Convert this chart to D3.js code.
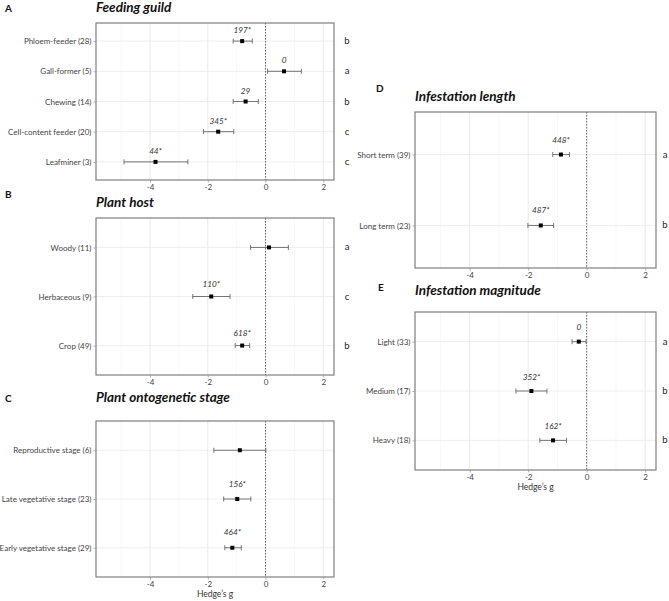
<!DOCTYPE html>
<html>
<head>
<meta charset="utf-8">
<script src="https://cdn.jsdelivr.net/npm/d3@7"></script>
<style>
  body { margin: 0; background: #fff; }
  text { font-family: Lato, "Open Sans", sans-serif; }
</style>
</head>
<body>
<script>
const width = 669;
const height = 601;
const xDomain = [-5.87, 2.37];
const xTicks = [-4, -2, 0, 2];
const xMinor = [-5, -3, -1, 1];

// Feeding guild
const guildCats = ["Phloem-feeder (28)", "Gall-former (5)", "Chewing (14)", "Cell-content feeder (20)", "Leafminer (3)"];
const guildMean = [-0.81, 0.64, -0.69, -1.64, -3.81];
const guildLow = [-1.12, 0.07, -1.12, -2.15, -4.90];
const guildHigh = [-0.46, 1.24, -0.25, -1.10, -2.69];
const guildNote = ["197*", "0", "29", "345*", "44*"];
const guildLetter = ["b", "a", "b", "c", "c"];

// Plant host
const hostCats = ["Woody (11)", "Herbaceous (9)", "Crop (49)"];
const hostMean = [0.12, -1.88, -0.81];
const hostLow = [-0.52, -2.52, -1.05];
const hostHigh = [0.79, -1.23, -0.55];
const hostNote = ["", "110*", "618*"];
const hostLetter = ["a", "c", "b"];

// Plant ontogenetic stage
const stageCats = ["Reproductive stage (6)", "Late vegetative stage (23)", "Early vegetative stage (29)"];
const stageMean = [-0.89, -0.98, -1.15];
const stageLow = [-1.79, -1.45, -1.41];
const stageHigh = [0.01, -0.51, -0.84];
const stageNote = ["", "156*", "464*"];
const stageLetter = ["", "", ""];

// Infestation length
const lengthCats = ["Short term (39)", "Long term (23)"];
const lengthMean = [-0.88, -1.57];
const lengthLow = [-1.16, -2.01];
const lengthHigh = [-0.59, -1.13];
const lengthNote = ["448*", "487*"];
const lengthLetter = ["a", "b"];

// Infestation magnitude
const magCats = ["Light (33)", "Medium (17)", "Heavy (18)"];
const magMean = [-0.27, -1.89, -1.15];
const magLow = [-0.50, -2.42, -1.60];
const magHigh = [-0.02, -1.36, -0.69];
const magNote = ["0", "352*", "162*"];
const magLetter = ["a", "b", "b"];

const svg = d3.select("body").append("svg")
    .attr("width", width)
    .attr("height", height);

function drawPanel(p) {
    const g = svg.append("g");
    const x = d3.scaleLinear().domain(xDomain).range([p.x0, p.x1]);
    const y = d3.scalePoint().domain(p.cats).range([p.y0, p.y1]).padding(0.6);

    const rows = p.cats.map(function(c, i) {
        return {cat: c, mean: p.mean[i], low: p.low[i], high: p.high[i], note: p.note[i], letter: p.letter[i]};
    });

    // grid
    g.selectAll(".minor").data(xMinor).enter().append("line")
        .attr("x1", d => x(d)).attr("x2", d => x(d))
        .attr("y1", p.y0).attr("y2", p.y1)
        .attr("stroke", "#f2f2f2").attr("stroke-width", 0.6);
    g.selectAll(".major").data(xTicks).enter().append("line")
        .attr("x1", d => x(d)).attr("x2", d => x(d))
        .attr("y1", p.y0).attr("y2", p.y1)
        .attr("stroke", "#e6e6e6").attr("stroke-width", 0.9);
    g.selectAll(".hgrid").data(p.cats).enter().append("line")
        .attr("x1", p.x0).attr("x2", p.x1)
        .attr("y1", d => y(d)).attr("y2", d => y(d))
        .attr("stroke", "#ececec").attr("stroke-width", 0.9);

    // zero line
    g.append("line")
        .attr("x1", x(0)).attr("x2", x(0))
        .attr("y1", p.y0).attr("y2", p.y1)
        .attr("stroke", "#555").attr("stroke-width", 0.9)
        .attr("stroke-dasharray", "1.5,1.5");

    // box
    g.append("rect")
        .attr("x", p.x0).attr("y", p.y0)
        .attr("width", p.x1 - p.x0).attr("height", p.y1 - p.y0)
        .attr("fill", "none").attr("stroke", "#7f7f7f").attr("stroke-width", 1.2);

    // axes
    const xAxis = g.append("g")
        .attr("transform", "translate(0," + p.y1 + ")")
        .call(d3.axisBottom(x).tickValues(xTicks).tickSize(2.5).tickPadding(2).tickFormat(d3.format("d")));
    const yAxis = g.append("g")
        .attr("transform", "translate(" + p.x0 + ",0)")
        .call(d3.axisLeft(y).tickSize(2.5).tickPadding(2));
    [xAxis, yAxis].forEach(function(a) {
        a.select(".domain").remove();
        a.selectAll(".tick line").attr("stroke", "#999").attr("stroke-width", 0.8);
        a.selectAll(".tick text").attr("fill", "#444").style("font-size", "8px").style("font-family", "Lato");
    });
    xAxis.selectAll(".tick text").text(d => d < 0 ? "-" + Math.abs(d) : d);

    // error bars
    const bars = g.selectAll(".bar").data(rows).enter().append("g");
    bars.append("line")
        .attr("x1", d => x(d.low)).attr("x2", d => x(d.high))
        .attr("y1", d => y(d.cat)).attr("y2", d => y(d.cat))
        .attr("stroke", "#666").attr("stroke-width", 0.9);
    bars.append("line")
        .attr("x1", d => x(d.low)).attr("x2", d => x(d.low))
        .attr("y1", d => y(d.cat) - 2.5).attr("y2", d => y(d.cat) + 2.5)
        .attr("stroke", "#666").attr("stroke-width", 0.9);
    bars.append("line")
        .attr("x1", d => x(d.high)).attr("x2", d => x(d.high))
        .attr("y1", d => y(d.cat) - 2.5).attr("y2", d => y(d.cat) + 2.5)
        .attr("stroke", "#666").attr("stroke-width", 0.9);
    bars.append("rect")
        .attr("x", d => x(d.mean) - 2).attr("y", d => y(d.cat) - 2)
        .attr("width", 4).attr("height", 4)
        .attr("fill", "#000");

    // annotations
    bars.append("text")
        .attr("x", d => x(d.mean))
        .attr("y", d => y(d.cat) - p.noteOffset + 3)
        .attr("text-anchor", "middle")
        .style("font-size", "8.2px").style("font-style", "italic")
        .style("fill", "#333")
        .text(d => d.note);

    // letters on the right
    bars.append("text")
        .attr("x", p.letterX)
        .attr("y", d => y(d.cat) + 3)
        .attr("text-anchor", "middle")
        .style("font-size", "9.5px")
        .style("fill", "#222")
        .text(d => d.letter);

    // title and panel letter
    g.append("text")
        .attr("x", p.x0).attr("y", p.titleY)
        .style("font-size", "13.5px").style("font-weight", "bold").style("font-style", "italic")
        .style("fill", "#111")
        .text(p.title);
    g.append("text")
        .attr("x", p.tagX).attr("y", p.tagY)
        .style("font-size", "10px").style("font-weight", "bold")
        .style("fill", "#111")
        .text(p.tag);

    if (p.xlab) {
        g.append("text")
            .attr("x", (p.x0 + p.x1) / 2).attr("y", p.y1 + 20)
            .attr("text-anchor", "middle")
            .style("font-size", "8.5px")
            .style("fill", "#333")
            .text("Hedge\u2019s g");
    }
}

drawPanel({tag: "A", title: "Feeding guild", cats: guildCats, mean: guildMean, low: guildLow, high: guildHigh,
    note: guildNote, letter: guildLetter, x0: 96, x1: 334, y0: 23, y1: 180,
    titleY: 12, tagX: 5, tagY: 12, noteOffset: 11, letterX: 347});
drawPanel({tag: "B", title: "Plant host", cats: hostCats, mean: hostMean, low: hostLow, high: hostHigh,
    note: hostNote, letter: hostLetter, x0: 96, x1: 334, y0: 218, y1: 375,
    titleY: 207, tagX: 5, tagY: 198, noteOffset: 13, letterX: 347});
drawPanel({tag: "C", title: "Plant ontogenetic stage", cats: stageCats, mean: stageMean, low: stageLow, high: stageHigh,
    note: stageNote, letter: stageLetter, x0: 96, x1: 334, y0: 421, y1: 577,
    titleY: 402, tagX: 5, tagY: 402, noteOffset: 15.5, letterX: 347, xlab: true});
drawPanel({tag: "D", title: "Infestation length", cats: lengthCats, mean: lengthMean, low: lengthLow, high: lengthHigh,
    note: lengthNote, letter: lengthLetter, x0: 415, x1: 656, y0: 112, y1: 268,
    titleY: 101, tagX: 376, tagY: 92, noteOffset: 15, letterX: 665});
drawPanel({tag: "E", title: "Infestation magnitude", cats: magCats, mean: magMean, low: magLow, high: magHigh,
    note: magNote, letter: magLetter, x0: 415, x1: 656, y0: 312, y1: 470,
    titleY: 295, tagX: 378, tagY: 291, noteOffset: 14.5, letterX: 665, xlab: true});
</script>
</body>
</html>
